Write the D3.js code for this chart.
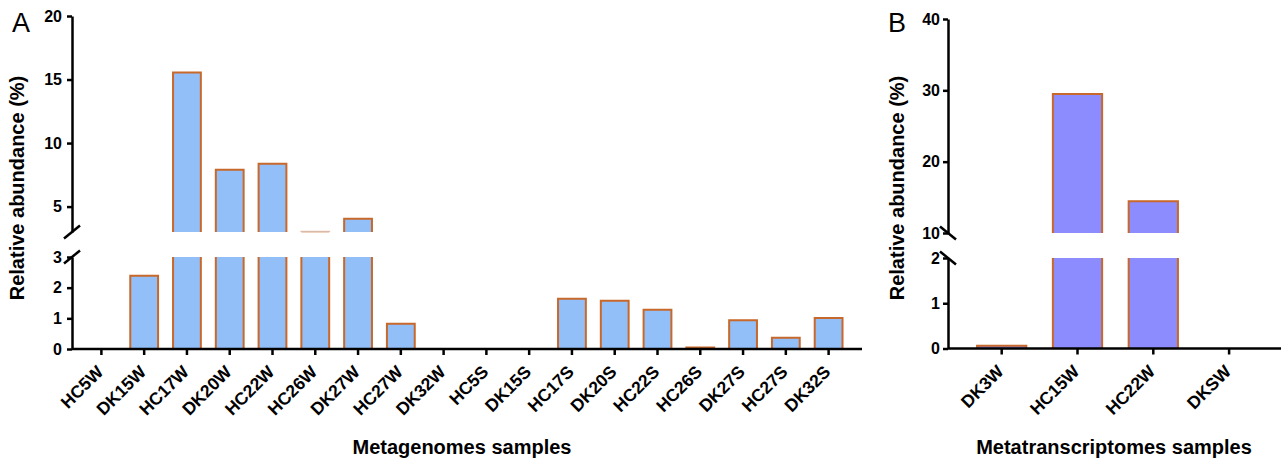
<!DOCTYPE html>
<html>
<head>
<meta charset="utf-8">
<script src="https://cdnjs.cloudflare.com/ajax/libs/d3/7.8.5/d3.min.js"></script>
<style>
  html, body { margin: 0; padding: 0; background: #fff; }
  svg { display: block; }
  text { font-family: "Liberation Sans", Arial, Helvetica, sans-serif; }
</style>
</head>
<body>
<svg id="chart" width="1284" height="461"></svg>
<script>
// ---------------- data ----------------
const categoriesA = ["HC5W","DK15W","HC17W","DK20W","HC22W","HC26W","DK27W","HC27W","DK32W",
                     "HC5S","DK15S","HC17S","DK20S","HC22S","HC26S","DK27S","HC27S","DK32S"];
const valuesA = [0, 2.39, 15.55, 7.9, 8.37, 3.02, 4.05, 0.82, 0, 0, 0, 1.64, 1.57, 1.28, 0.05, 0.94, 0.37, 1.01];
const lowTicksA = [0, 1, 2, 3];
const highTicksA = [5, 10, 15, 20];

const categoriesB = ["DK3W","HC15W","HC22W","DKSW"];
const valuesB = [0.06, 29.5, 14.45, 0];
const lowTicksB = [0, 1, 2];
const highTicksB = [10, 20, 30, 40];

const yTitle = "Relative abundance (%)";
const xTitleA = "Metagenomes samples";
const xTitleB = "Metatranscriptomes samples";

// ---------------- drawing ----------------
const svg = d3.select("#chart");
const STROKE = "#c8682a";
const fmt = d3.format("d");

function panel(opt) {
  const g = svg.append("g");
  const x = d3.scaleBand().domain(opt.cats).range(opt.bandRange).paddingInner(0).paddingOuter(0);
  const bw = x.bandwidth() * 0.65;
  const yLow = d3.scaleLinear().domain(opt.lowDomain).range(opt.lowRange);
  const yHigh = d3.scaleLinear().domain(opt.highDomain).range(opt.highRange);
  const segs = [yLow, yHigh];

  // bars
  opt.vals.forEach((v, i) => {
    const cx = x(opt.cats[i]) + x.bandwidth() / 2;
    const x0 = cx - bw / 2, x1 = cx + bw / 2;
    segs.forEach(s => {
      const [d0, d1] = s.domain();
      if (v <= d0) return;
      const top = Math.min(v, d1);
      const yb = s(d0), yt = s(top);
      const tiny = (yb - yt) < 1;
      g.append("rect")
        .attr("x", x0).attr("y", yt)
        .attr("width", bw).attr("height", Math.max(0, yb - yt))
        .attr("fill", opt.fill);
      let d;
      if (v <= d1) d = `M${x0},${yb}V${yt}H${x1}V${yb}`;
      else d = `M${x0},${yb}V${yt}M${x1},${yt}V${yb}`;
      g.append("path").attr("d", d).attr("fill", "none")
        .attr("stroke", STROKE).attr("stroke-width", 2)
        .attr("stroke-opacity", tiny && s === yHigh ? 0.4 : 1);
    });
  });

  // y axes
  const styleAxis = (sel, fs) => {
    sel.selectAll("path.domain").attr("stroke", "#000").attr("stroke-width", 2.5);
    sel.selectAll(".tick line").attr("stroke", "#000").attr("stroke-width", 2.5);
    sel.selectAll(".tick text").attr("fill", "#000")
      .style("font-size", (fs || 16) + "px").style("font-weight", "bold");
  };
  g.append("g").attr("transform", `translate(${opt.axisX},0)`)
    .call(d3.axisLeft(yLow).tickValues(opt.lowTicks).tickFormat(fmt).tickSize(5).tickSizeOuter(0).tickPadding(opt.tickPad))
    .call(styleAxis);
  g.append("g").attr("transform", `translate(${opt.axisX},0)`)
    .call(d3.axisLeft(yHigh).tickValues(opt.highTicks).tickFormat(fmt).tickSize(5).tickSizeOuter(0).tickPadding(opt.tickPad))
    .call(styleAxis);

  // break marks
  const bm = opt.breakDir; // +1 => "/", -1 => "\"
  [yHigh.range()[0], yLow.range()[1]].forEach(yy => {
    g.append("line")
      .attr("x1", opt.axisX - 8).attr("y1", yy + 6.5 * bm)
      .attr("x2", opt.axisX + 8).attr("y2", yy - 6.5 * bm)
      .attr("stroke", "#000").attr("stroke-width", 2.5);
  });

  // x axis
  const xa = g.append("g").attr("transform", `translate(0,${opt.lowRange[0]})`)
    .call(d3.axisBottom(x).tickSize(6).tickSizeOuter(0))
    .call(styleAxis, 17.5);
  xa.select("path.domain").attr("d", `M${opt.axisX},0H${opt.axisEnd}`);
  xa.selectAll(".tick text")
    .attr("x", 0).attr("y", 0).attr("dy", 0)
    .attr("text-anchor", "end")
    .attr("transform", "translate(3,24) rotate(-45)");

  // titles
  g.append("text")
    .attr("transform", `translate(${opt.yTitleX},${opt.yTitleY}) rotate(-90)`)
    .attr("text-anchor", "middle")
    .style("font-size", "20px").style("font-weight", "bold")
    .text(yTitle);
  g.append("text")
    .attr("x", opt.xTitleX).attr("y", 454)
    .attr("text-anchor", "middle")
    .style("font-size", "20px").style("font-weight", "bold")
    .text(opt.xTitle);
  g.append("text")
    .attr("x", opt.letterX).attr("y", 32)
    .style("font-size", "27px")
    .text(opt.letter);
}

panel({
  cats: categoriesA, vals: valuesA, fill: "#92bff8",
  bandRange: [80, 850], axisX: 72, axisEnd: 862,
  lowDomain: [0, 3], lowRange: [349, 257], lowTicks: lowTicksA,
  highDomain: [3, 20], highRange: [232, 16], highTicks: highTicksA,
  tickPad: 5, breakDir: 1,
  yTitleX: 24, yTitleY: 188, xTitleX: 462, xTitle: xTitleA,
  letter: "A", letterX: 12
});

panel({
  cats: categoriesB, vals: valuesB, fill: "#8c8cff",
  bandRange: [963.8, 1267], axisX: 948, axisEnd: 1281,
  lowDomain: [0, 2], lowRange: [348.5, 258], lowTicks: lowTicksB,
  highDomain: [10, 40], highRange: [233, 19], highTicks: highTicksB,
  tickPad: 3, breakDir: -1,
  yTitleX: 904, yTitleY: 188, xTitleX: 1114, xTitle: xTitleB,
  letter: "B", letterX: 888
});
</script>
</body>
</html>
